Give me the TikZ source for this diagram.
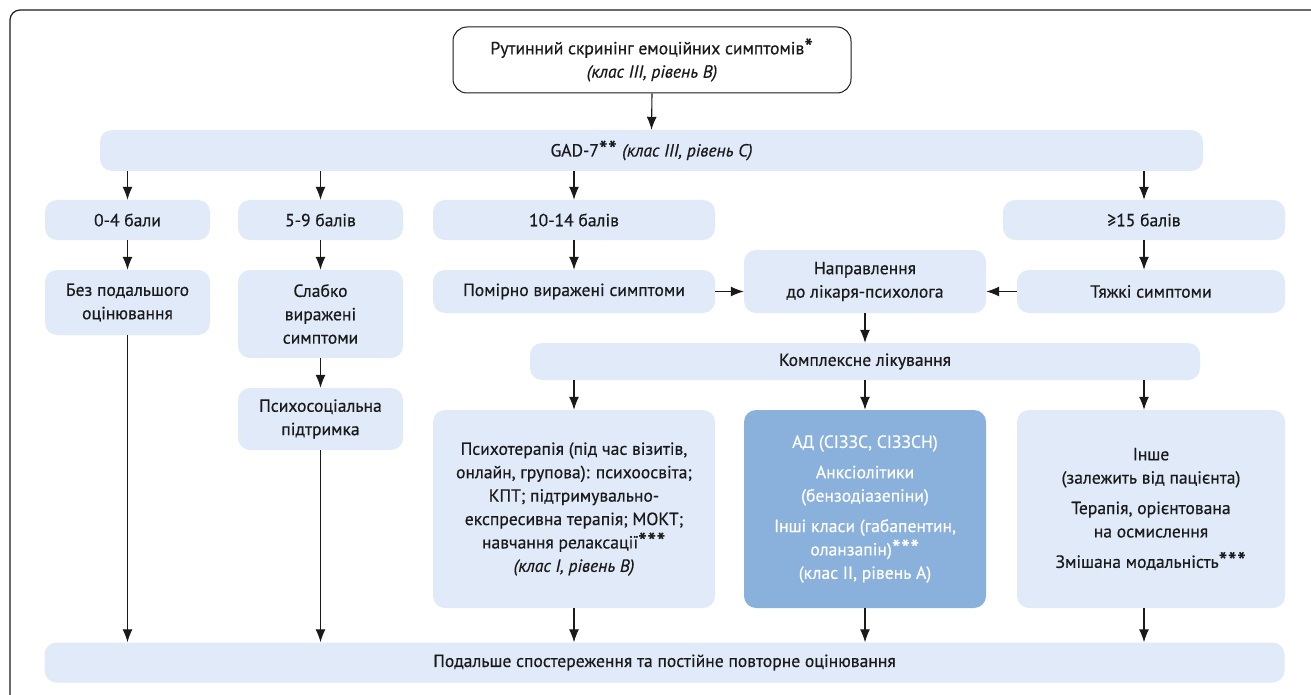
\documentclass[tikz,border=0pt]{standalone}
\usepackage{fontspec}
\setmainfont{PT Sans}[FakeBold=0.45]
\usetikzlibrary{arrows.meta}
\definecolor{lb}{HTML}{E1EAF8}
\definecolor{db}{HTML}{8AB0DC}
\definecolor{ink}{HTML}{1A1A1A}
\newcommand\astk{\raisebox{-0.2ex}{\scalebox{1.4}{*}}\kern0.6pt}
\begin{document}
\begin{tikzpicture}[x=1pt,y=-1pt,
  box/.style={rectangle, rounded corners=12pt, fill=lb, draw=none, align=center, inner sep=2pt, text=ink,
    font=\fontsize{17.6}{23.4}\selectfont},
  dbox/.style={box, fill=db, text=white},
  wbox/.style={box, fill=white, draw=ink, line width=1pt, rounded corners=14pt},
  arr/.style={-{Latex[length=13pt,width=10pt]}, line width=1.1pt, draw=ink},
]
\useasboundingbox (0,0) rectangle (1311,695);
\draw[line width=1.2pt, draw=ink, rounded corners=10pt] (10,695) -- (10,10) -- (1311,10);

\node[wbox, minimum width=398, minimum height=66] (top) at (652,60)
  {Рутинний скринінг емоційних симптомів\astk\\ \textit{(клас III, рівень B)}};
\node[box, minimum width=1103, minimum height=41] (gad) at (651.5,150.5)
  {GAD-7\astk\astk\ \textit{(клас III, рівень C)}};

\node[box, minimum width=165, minimum height=40] (s04) at (127.5,220) {0-4 бали};
\node[box, minimum width=165, minimum height=40] (s59) at (320.5,220) {5-9 балів};
\node[box, minimum width=282, minimum height=40] (s1014) at (574,220) {10-14 балів};
\node[box, minimum width=282, minimum height=40] (s15) at (1144,220) {≥15 балів};

\node[box, minimum width=165, minimum height=65] (bez) at (127.5,302.5) {Без подальшого\\ оцінювання};
\node[box, minimum width=165, minimum height=88] (slab) at (320.5,314) {Слабко\\ виражені\\ симптоми};
\node[box, minimum width=282, minimum height=43] (pom) at (574,291.5) {Помірно виражені симптоми};
\node[box, minimum width=242, minimum height=63] (napr) at (865,281.5) {Направлення\\ до лікаря-психолога};
\node[box, minimum width=268, minimum height=43] (tyazh) at (1151,291.5) {Тяжкі симптоми};

\node[box, minimum width=670, minimum height=37] (kompl) at (865,361.5) {Комплексне лікування};
\node[box, minimum width=165, minimum height=62] (psysoc) at (320.5,419) {Психосоціальна\\ підтримка};

\node[box, minimum width=282, minimum height=198] (psy) at (574,509)
  {Психотерапія (під час візитів,\\ онлайн, групова): психоосвіта;\\ КПТ; підтримувально-\\ експресивна терапія; МОКТ;\\ навчання релаксації\astk\astk\astk\\ \textit{(клас I, рівень B)}};
\node[dbox, minimum width=242, minimum height=198] (ad) at (865,509)
  {АД (СІЗЗС, СІЗЗСН)\\[7pt] Анксіолітики\\ (бензодіазепіни)\\[7pt] Інші класи (габапентин,\\ оланзапін)\astk\astk\astk\\ (клас II, рівень A)};
\node[box, minimum width=268, minimum height=198] (inshe) at (1151,509)
  {Інше\\ (залежить від пацієнта)\\[7pt] Терапія, орієнтована\\ на осмислення\\[7pt] Змішана модальність\astk\astk\astk};

\node[box, minimum width=1240, minimum height=40] (bot) at (664.5,662.5)
  {Подальше спостереження та постійне повторне оцінювання};

% arrows
\draw[arr] (top.south) -- (gad.north);
\foreach \n in {s04,s59,s1014,s15} \draw[arr] (gad.south -| \n.north) -- (\n.north);
\draw[arr] (s04.south) -- (bez.north);
\draw[arr] (s59.south) -- (slab.north);
\draw[arr] (s1014.south) -- (pom.north);
\draw[arr] (s15.south) -- (s15.south |- tyazh.north);
\draw[arr] (pom.east) -- (napr.west |- pom.east);
\draw[arr] (tyazh.west) -- (napr.east |- tyazh.west);
\draw[arr] (napr.south) -- (kompl.north -| napr.south);
\draw[arr] (slab.south) -- (psysoc.north);
\draw[arr] (kompl.south -| psy.north) -- (psy.north);
\draw[arr] (kompl.south -| ad.north) -- (ad.north);
\draw[arr] (kompl.south -| s15.south) -- (s15.south |- inshe.north);
\draw[arr] (bez.south) -- (bot.north -| bez.south);
\draw[arr] (psysoc.south) -- (bot.north -| psysoc.south);
\draw[arr] (psy.south) -- (bot.north -| psy.south);
\draw[arr] (ad.south) -- (bot.north -| ad.south);
\draw[arr] (inshe.south -| s15.south) -- (bot.north -| s15.south);
\end{tikzpicture}
\end{document}
